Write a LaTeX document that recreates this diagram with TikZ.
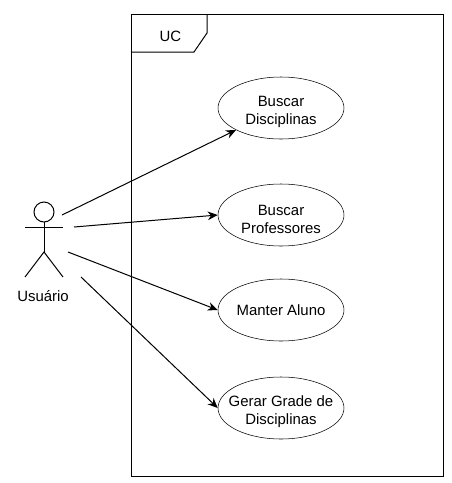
\documentclass[tikz,border=0pt]{standalone}
\usepackage{fontspec}
\setmainfont{Liberation Sans}
\usetikzlibrary{shapes.geometric}
\usetikzlibrary{arrows.meta}

\tikzset{
    usecase/.style={draw, ellipse, minimum width=94.5pt, minimum height=46.5pt, inner xsep=-12pt, inner ysep=0pt, align=center, font=\fontsize{11.2pt}{13.5pt}\selectfont},
    twoline/.style={usecase, text height=27.5pt},
    assoc/.style={-{Stealth[length=7.5pt, width=6.5pt]}, line width=0.75pt},
    stroke/.style={line width=0.75pt},
    caption/.style={font=\fontsize{11.2pt}{13.5pt}\selectfont}
}

\begin{document}
\begin{tikzpicture}[x=0.75pt, y=-0.75pt]
    \useasboundingbox (0,0) rectangle (451,483);

    % frame
    \draw[stroke] 
        (131.5,14.5) rectangle (443.5,476.5);
    \draw[stroke] 
        (131.5,52) 
        -- (194,52) 
        -- (207,33) 
        -- (207,14.5);
    \node[caption] (uc) at (170.5,36) {UC};

    % actor
    \draw[stroke] (44,212) circle (10);
    \draw[stroke] (44,222) -- (44,252);
    \draw[stroke] (25,227) -- (63,227);
    \draw[stroke] (25,277) -- (44,252) -- (63,277);
    \node[caption] (usuario) at (43,296) {Usuário};

    % use cases
    \node[twoline] (disciplinas) at (281,108) {Buscar\\Disciplinas};
    \node[twoline] (professores) at (281,215) {Buscar\\Professores};
    \node[usecase] (aluno) at (281,310) {Manter Aluno};
    \node[twoline] (grade) at (281,408) {Gerar Grade de\\Disciplinas};

    \coordinate (a1) at (62,215);
    \coordinate (a2) at (74,227);
    \coordinate (a3) at (68,252);
    \coordinate (a4) at (81,277);

    \draw[assoc] (a1) -- (disciplinas);
    \draw[assoc] (a2) -- (professores.west);
    \draw[assoc] (a3) -- (aluno.west);
    \draw[assoc] (a4) -- (grade.west);
\end{tikzpicture}
\end{document}
